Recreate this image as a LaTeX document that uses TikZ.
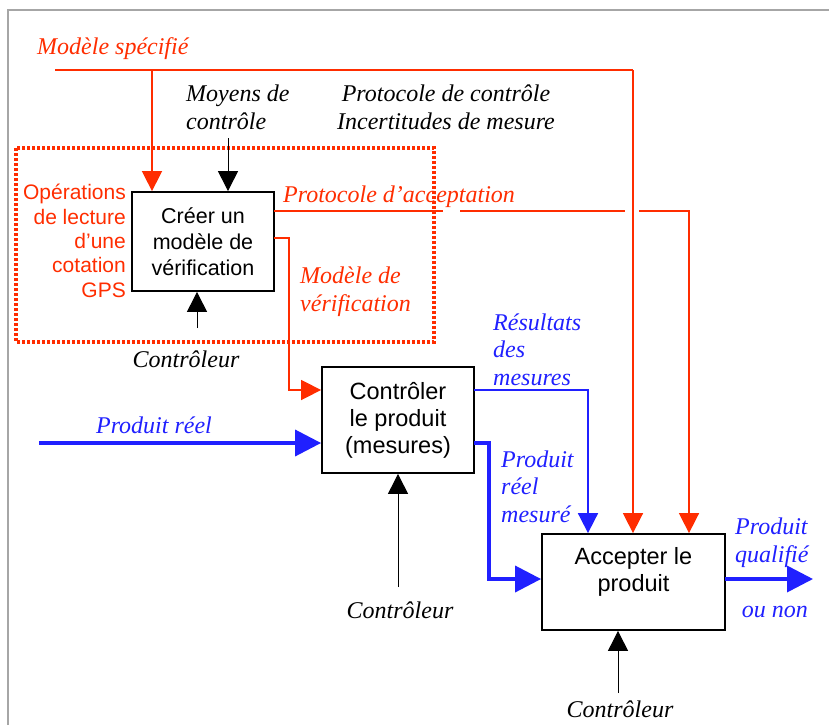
\documentclass[tikz,border=0pt]{standalone}
\usepackage{fontspec}
\setmainfont{Liberation Serif}
\setsansfont{Liberation Sans}
\usepackage{xcolor}
\usetikzlibrary{arrows.meta}
\usetikzlibrary{positioning}
\definecolor{rouge}{RGB}{255,45,0}
\definecolor{bleu}{RGB}{32,32,255}
\tikzset{
  boite/.style={draw,line width=1.8pt,align=center,inner sep=0pt,
    font=\sffamily\fontsize{21.5}{26}\selectfont},
  grande/.style={font=\sffamily\fontsize{23.5}{27}\selectfont},
  lab/.style={inner sep=0pt,align=left,font=\itshape\fontsize{24}{27.5}\selectfont},
  fr/.style={-{Triangle[length=20pt,width=20pt]}},
  fb/.style={-{Triangle[length=26pt,width=26pt]}},
  lr/.style={rouge,line width=1.6pt},
  lbm/.style={bleu,line width=1.8pt},
  lbg/.style={bleu,line width=3.6pt},
  ln/.style={black,line width=1pt}
}
\begin{document}
\begin{tikzpicture}[x=1pt,y=-1pt]
		\useasboundingbox (0,0) rectangle (829,725);
		\coordinate (c1) at (8,10);
		\coordinate (c2) at (829,10);
		\coordinate (c3) at (8,725);
		\draw[gray!70,line width=1.2pt] (c3) -- (c1) -- (c2);
		\node[boite,minimum width=142pt,minimum height=99pt] (creer) at (203,241.5) {Cr\'eer un\\mod\`ele de\\v\'erification};
		\node[boite,grande,minimum width=152pt,minimum height=106pt] (ctrl) at (398,420) {Contr\^oler\\le produit\\(mesures)};
		\node[boite,grande,minimum width=183pt,minimum height=96pt,text depth=26pt] (accept) at (633.5,582) {Accepter le\\produit};
		\draw[rouge,line width=3.2pt,dash pattern=on 3pt off 2pt] (16,148) rectangle (434,342);
		\node[lab,rouge,anchor=base west] (spec) at (37,55) {Mod\`ele sp\'ecifi\'e};
		\node[lab,anchor=base west] (moyens) at (186,129) {Moyens de\\contr\^ole};
		\node[lab,anchor=base,align=center] (proto) at (446,129) {Protocole de contr\^ole\\Incertitudes de mesure};
		\node[lab,rouge,anchor=base west] (protacc) at (283,202) {Protocole d'acceptation};
		\node[lab,rouge,anchor=base west] (modver) at (300,311) {Mod\`ele de\\v\'erification};
		\node[inner sep=0pt,rouge,anchor=base east,align=right,font=\sffamily\fontsize{21}{24.3}\selectfont] (oper) at (126,297) {Op\'erations\\de lecture\\d'une\\cotation\\GPS};
		\node[lab,anchor=base] (ctl1) at (186,367) {Contr\^oleur};
		\node[lab,bleu,anchor=base] (preel) at (154,433) {Produit r\'eel};
		\node[lab,anchor=base] (ctl2) at (400,618) {Contr\^oleur};
		\node[lab,bleu,anchor=base west] (result) at (493,385) {R\'esultats\\des\\mesures};
		\node[lab,bleu,anchor=base west] (pmes) at (501,522) {Produit\\r\'eel\\mesur\'e};
		\node[lab,bleu,anchor=base west] (pqual) at (735,562) {Produit\\qualifi\'e};
		\node[lab,bleu,anchor=base east] (ounon) at (808,617) {ou non};
		\node[lab,anchor=base] (ctl3) at (620,717) {Contr\^oleur};
		\coordinate (s1) at (55,70);
		\coordinate (s2) at (633,70);
		\coordinate (s3) at (152,70);
		\draw[lr] (s1) -- (s2);
		\draw[lr,fr] (s2) -- (accept.north -| s2);
		\draw[lr,fr] (s3) -- (creer.north -| s3);
		\coordinate (m1) at (228,138);
		\draw[ln,fr] (m1) -- (creer.north -| m1);
		\coordinate (a1) at (274,211);
		\coordinate (a2) at (443,211);
		\coordinate (a3) at (460,211);
		\coordinate (a4) at (625,211);
		\coordinate (a5) at (639,211);
		\coordinate (a6) at (689,211);
		\draw[lr] (a1) -- (a2);
		\draw[lr] (a3) -- (a4);
		\draw[lr,fr] (a5) -- (a6) -- (accept.north -| a6);
		\coordinate (v1) at (274,238);
		\coordinate (v2) at (289,238);
		\coordinate (v3) at (289,390);
		\draw[lr,fr] (v1) -- (v2) -- (v3) -- (ctrl.west |- v3);
		\coordinate (k1) at (197,328);
		\draw[ln,fr] (k1) -- (creer.south -| k1);
		\coordinate (p1) at (39,443);
		\draw[lbg,fb] (p1) -- (ctrl.west |- p1);
		\coordinate (k2) at (398,587);
		\draw[ln,fr] (k2) -- (ctrl.south -| k2);
		\coordinate (r1) at (474,390);
		\coordinate (r2) at (588,390);
		\draw[lbm,fr] (r1) -- (r2) -- (accept.north -| r2);
		\coordinate (q1) at (474,443);
		\coordinate (q2) at (489,443);
		\coordinate (q3) at (489,579);
		\draw[lbg,fb] (q1) -- (q2) -- (q3) -- (accept.west |- q3);
		\coordinate (o1) at (725,579);
		\coordinate (o2) at (813,579);
		\draw[lbg,fb] (o1) -- (o2);
		\coordinate (k3) at (618,693);
		\draw[ln,fr] (k3) -- (accept.south -| k3);
\end{tikzpicture}
\end{document}
